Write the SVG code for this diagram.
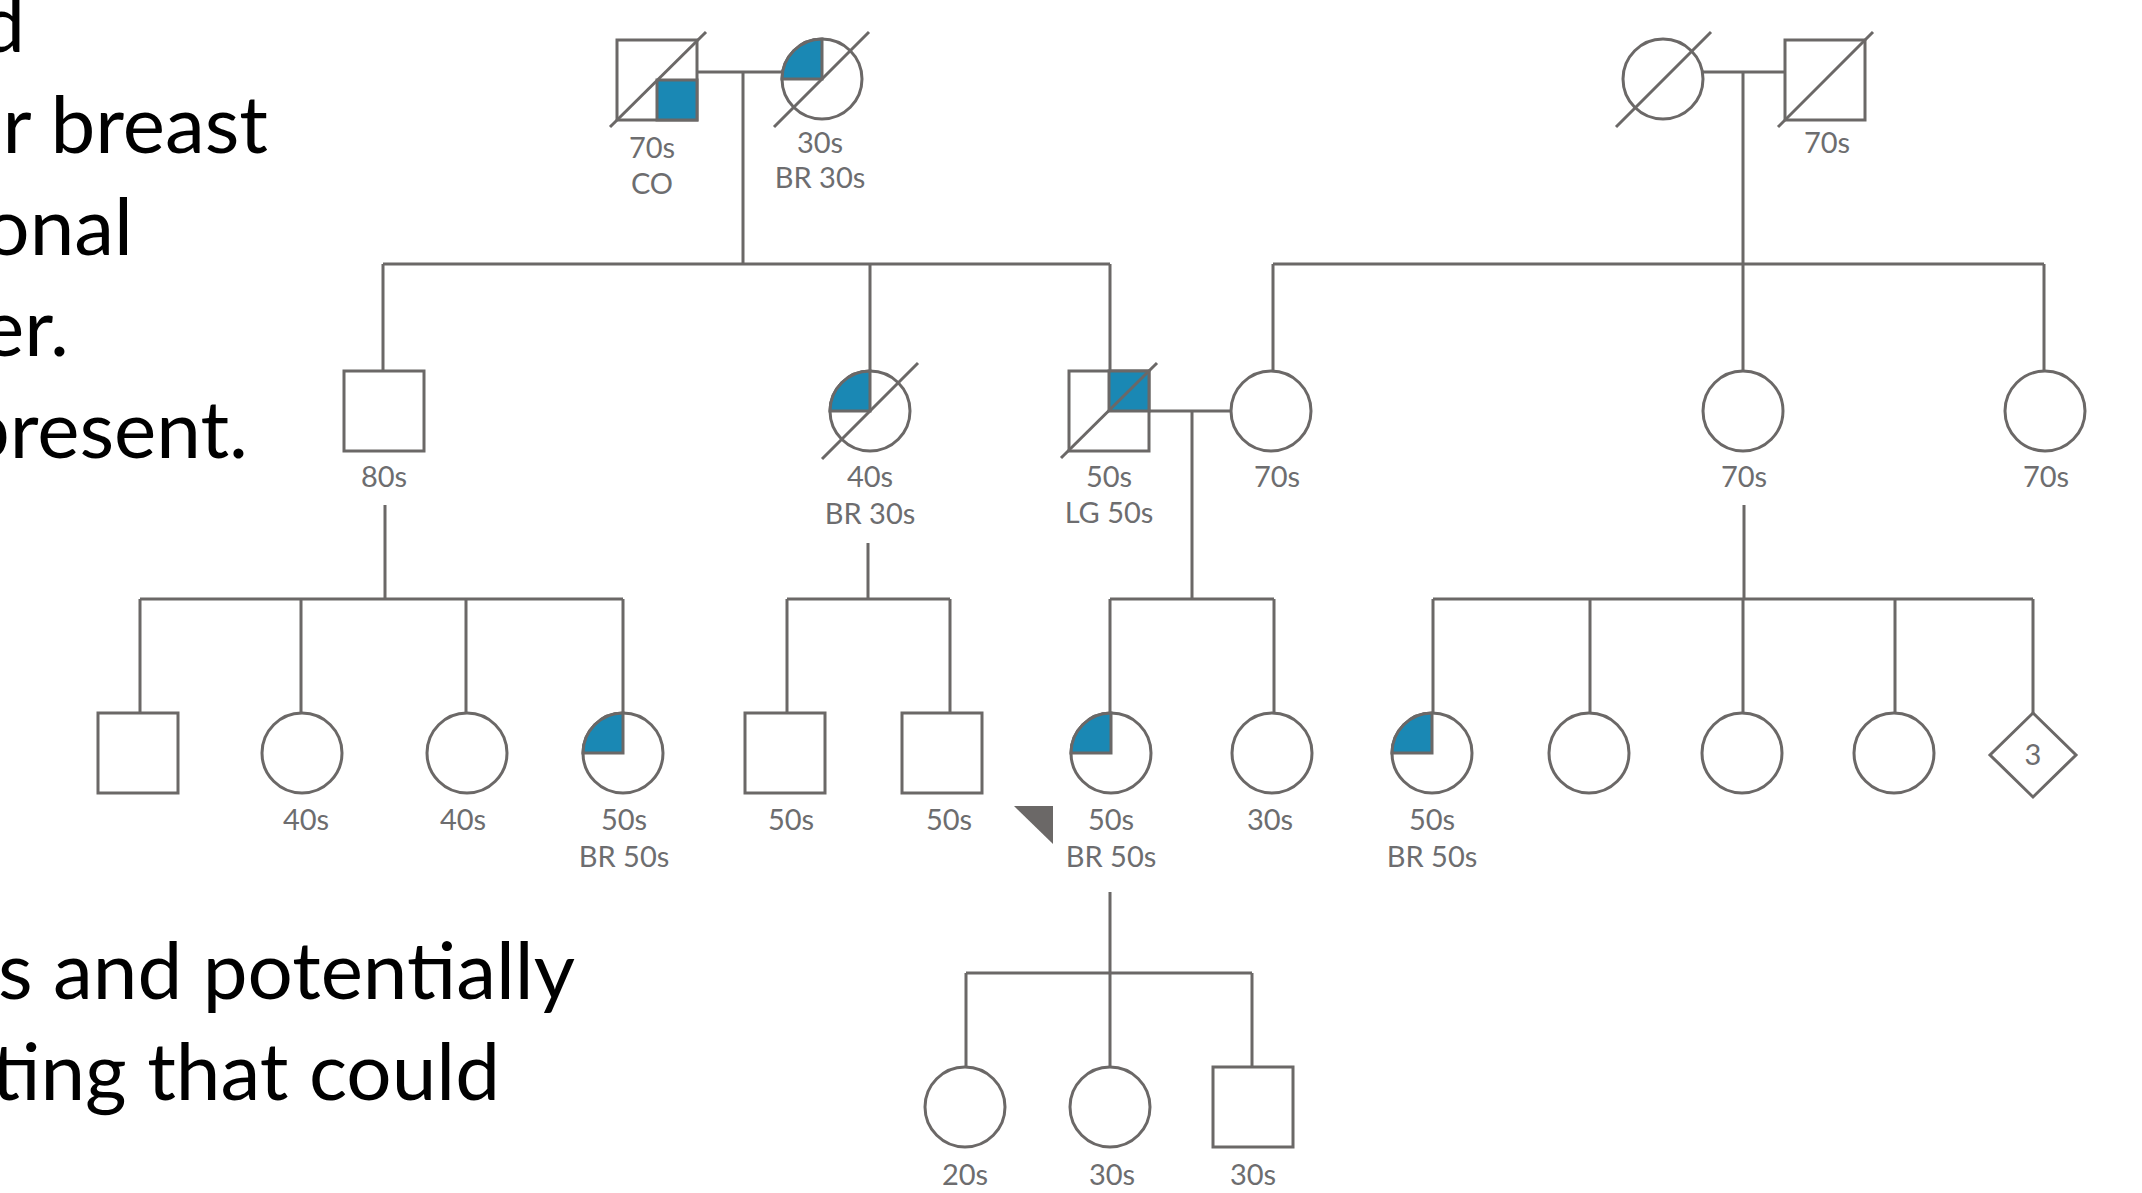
<svg xmlns="http://www.w3.org/2000/svg" width="2142" height="1193" viewBox="0 0 2142 1193">
<style>
.ln{stroke:#6b6867;stroke-width:3;fill:none}
.nd{stroke:#6b6867;stroke-width:3;fill:#fff}
.aff{fill:#1a88b4;stroke:#6b6867;stroke-width:3}
.lbl{font-family:Lato,"Open Sans","Liberation Sans",sans-serif;font-size:29px;fill:#6d6d6f;text-anchor:middle}
.big{font-family:Lato,"Liberation Sans",sans-serif;font-size:80px;fill:#000;text-anchor:end}
.arrow{fill:#6b6867}
</style>
<rect width="2142" height="1193" fill="#fff"/>
<g id="text-left">
<text class="big" x="25" y="52">d</text>
<text class="big" x="268" y="153">r breast</text>
<text class="big" x="133" y="255">onal</text>
<text class="big" x="69" y="356">er.</text>
<text class="big" x="248" y="458">present.</text>
<text class="big" x="575" y="999">s and potentially</text>
<text class="big" x="500" y="1100">ting that could</text>
</g>
<g id="connectors">
<path class="ln" d="M697,72H782M743,72V264M383,264H1110M383,264V371M870,264V371M1110,264V371"/>
<path class="ln" d="M1703,72H1785M1743,72V371M1273,264H2044M1273,264V371M2044,264V371"/>
<path class="ln" d="M1149,411H1231M1192,411V599M1110,599H1274M1110,599V713M1274,599V713"/>
<path class="ln" d="M385,505V599M140,599H623M140,599V713M301,599V713M466,599V713M623,599V713"/>
<path class="ln" d="M868,543V599M787,599H950M787,599V713M950,599V713"/>
<path class="ln" d="M1744,505V599M1433,599H2033M1433,599V713M1590,599V713M1743,599V713M1895,599V713M2033,599V713"/>
<path class="ln" d="M1110,892V1067M966,973H1252M966,973V1067M1252,973V1067"/>
</g>
<g id="p1">
<rect class="nd" x="617" y="40" width="80" height="80"/>
<rect class="aff" x="657" y="80" width="40" height="40"/>
<line class="ln" x1="610" y1="127" x2="706" y2="32"/>
<text class="lbl" x="652" y="158">70s</text>
<text class="lbl" x="652" y="194">CO</text>
</g>
<g id="p2">
<circle class="nd" cx="822" cy="79" r="40"/>
<path class="aff" d="M822,79H782A40,40 0 0 1 822,39Z"/>
<line class="ln" x1="774" y1="127" x2="869" y2="32"/>
<text class="lbl" x="820" y="153">30s</text>
<text class="lbl" x="820" y="188">BR 30s</text>
</g>
<g id="p3">
<circle class="nd" cx="1663" cy="79" r="40"/>
<line class="ln" x1="1616" y1="127" x2="1711" y2="32"/>
</g>
<g id="p4">
<rect class="nd" x="1785" y="40" width="80" height="80"/>
<line class="ln" x1="1778" y1="127" x2="1873" y2="32"/>
<text class="lbl" x="1827" y="153">70s</text>
</g>
<g id="p5">
<rect class="nd" x="344" y="371" width="80" height="80"/>
<text class="lbl" x="384" y="487">80s</text>
</g>
<g id="p6">
<circle class="nd" cx="870" cy="411" r="40"/>
<path class="aff" d="M870,411H830A40,40 0 0 1 870,371Z"/>
<line class="ln" x1="822" y1="459" x2="918" y2="363"/>
<text class="lbl" x="870" y="487">40s</text>
<text class="lbl" x="870" y="524">BR 30s</text>
</g>
<g id="p7">
<rect class="nd" x="1069" y="371" width="80" height="80"/>
<rect class="aff" x="1109" y="371" width="40" height="40"/>
<line class="ln" x1="1061" y1="458" x2="1157" y2="363"/>
<text class="lbl" x="1109" y="487">50s</text>
<text class="lbl" x="1109" y="523">LG 50s</text>
</g>
<g id="p8">
<circle class="nd" cx="1271" cy="411" r="40"/>
<text class="lbl" x="1277" y="487">70s</text>
</g>
<g id="p9">
<circle class="nd" cx="1743" cy="411" r="40"/>
<text class="lbl" x="1744" y="487">70s</text>
</g>
<g id="p10">
<circle class="nd" cx="2045" cy="411" r="40"/>
<text class="lbl" x="2046" y="487">70s</text>
</g>
<g id="q1">
<rect class="nd" x="98" y="713" width="80" height="80"/>
</g>
<g id="q2">
<circle class="nd" cx="302" cy="753" r="40"/>
<text class="lbl" x="306" y="830">40s</text>
</g>
<g id="q3">
<circle class="nd" cx="467" cy="753" r="40"/>
<text class="lbl" x="463" y="830">40s</text>
</g>
<g id="q4">
<circle class="nd" cx="623" cy="753" r="40"/>
<path class="aff" d="M623,753H583A40,40 0 0 1 623,713Z"/>
<text class="lbl" x="624" y="830">50s</text>
<text class="lbl" x="624" y="867">BR 50s</text>
</g>
<g id="q5">
<rect class="nd" x="745" y="713" width="80" height="80"/>
<text class="lbl" x="791" y="830">50s</text>
</g>
<g id="q6">
<rect class="nd" x="902" y="713" width="80" height="80"/>
<text class="lbl" x="949" y="830">50s</text>
</g>
<g id="q7">
<circle class="nd" cx="1111" cy="753" r="40"/>
<path class="aff" d="M1111,753H1071A40,40 0 0 1 1111,713Z"/>
<polygon class="arrow" points="1014,806 1053,806 1053,844"/>
<text class="lbl" x="1111" y="830">50s</text>
<text class="lbl" x="1111" y="867">BR 50s</text>
</g>
<g id="q8">
<circle class="nd" cx="1272" cy="753" r="40"/>
<text class="lbl" x="1270" y="830">30s</text>
</g>
<g id="q9">
<circle class="nd" cx="1432" cy="753" r="40"/>
<path class="aff" d="M1432,753H1392A40,40 0 0 1 1432,713Z"/>
<text class="lbl" x="1432" y="830">50s</text>
<text class="lbl" x="1432" y="867">BR 50s</text>
</g>
<g id="q10"><circle class="nd" cx="1589" cy="753" r="40"/></g>
<g id="q11"><circle class="nd" cx="1742" cy="753" r="40"/></g>
<g id="q12"><circle class="nd" cx="1894" cy="753" r="40"/></g>
<g id="q13">
<polygon class="nd" points="2033,713 2076,755 2033,797 1990,755"/>
<text class="lbl" x="2033" y="765">3</text>
</g>
<g id="r1">
<circle class="nd" cx="965" cy="1107" r="40"/>
<text class="lbl" x="965" y="1185">20s</text>
</g>
<g id="r2">
<circle class="nd" cx="1110" cy="1107" r="40"/>
<text class="lbl" x="1112" y="1185">30s</text>
</g>
<g id="r3">
<rect class="nd" x="1213" y="1067" width="80" height="80"/>
<text class="lbl" x="1253" y="1185">30s</text>
</g>
</svg>
